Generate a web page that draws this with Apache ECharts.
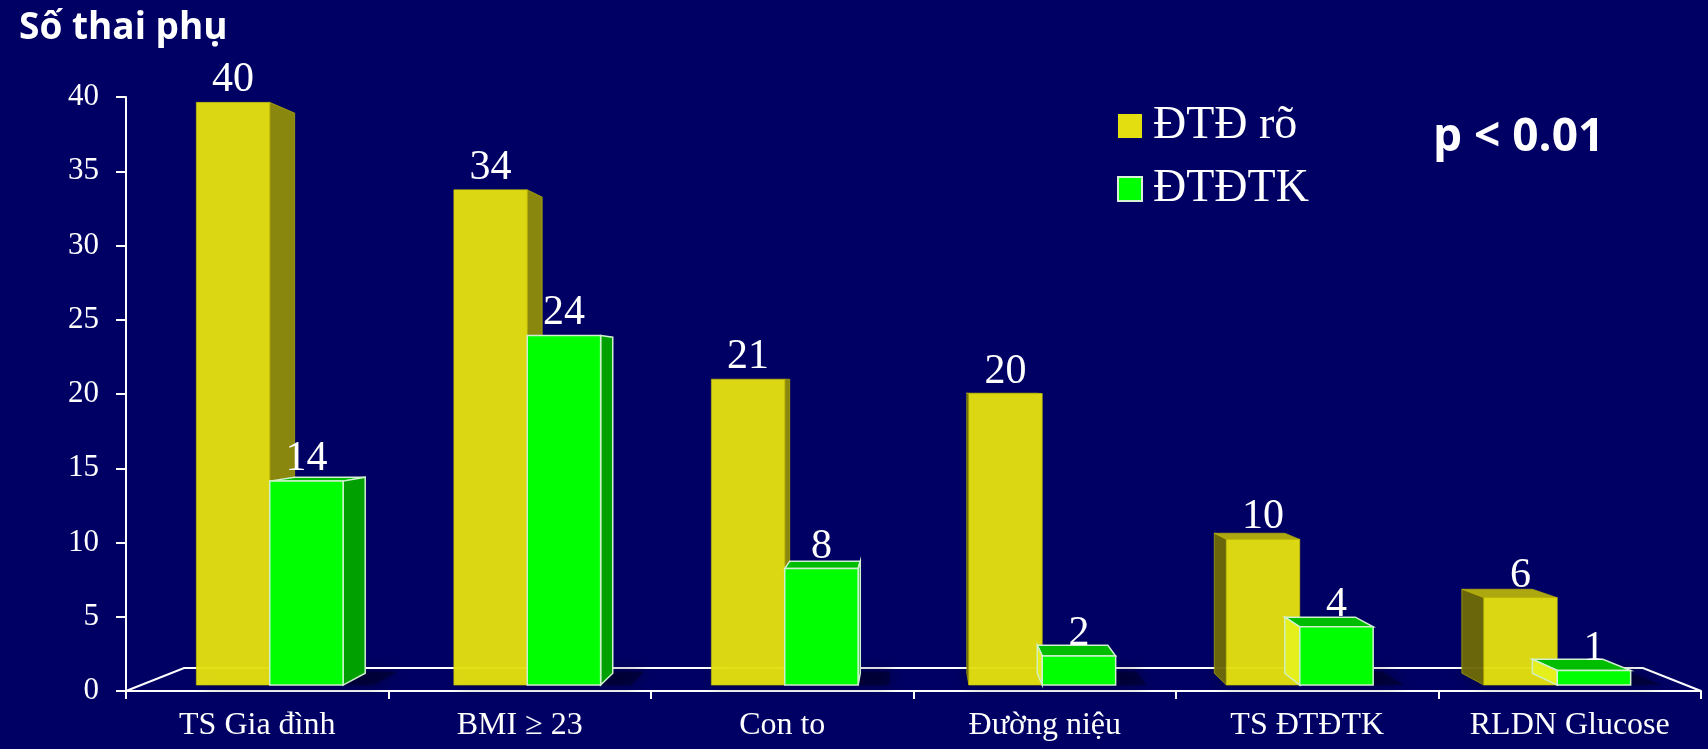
<!DOCTYPE html>
<html>
<head>
<meta charset="utf-8">
<script src="https://cdn.jsdelivr.net/npm/echarts@6/dist/echarts.min.js"></script>
<style>
html,body{margin:0;padding:0;background:#000064;}
#main{width:1708px;height:749px;}
</style>
</head>
<body>
<div id="main"></div>
<script>
// ---- data ----
const categories = ['TS Gia đình', 'BMI ≥ 23', 'Con to', 'Đường niệu', 'TS ĐTĐTK', 'RLDN Glucose'];
const seriesNames = ['ĐTĐ rõ', 'ĐTĐTK'];
const overtDiabetes = [40, 34, 21, 20, 10, 6];
const gestationalDiabetes = [14, 24, 8, 2, 4, 1];
const yTickValues = [0, 5, 10, 15, 20, 25, 30, 35, 40];

// ---- rendering constants ----
const K0 = 0.019, K1 = 0.057, KF = 0.0737, EYE_VALUE = 21, BAR_FRAC = 0.285;

function makeProj(params, api) {
  const cs = params.coordSys;
  const ex = cs.x + cs.width / 2;
  const ey = api.coord([0, EYE_VALUE])[1];
  return function (x, y, k) { return [ex + (x - ex) * (1 - k), ey + (y - ey) * (1 - k)]; };
}

function boxRenderer(side, colors) {
  return function (params, api) {
    const cs = params.coordSys;
    const ex = cs.x + cs.width / 2;
    const ey = api.coord([0, EYE_VALUE])[1];
    const P = makeProj(params, api);
    const i = api.value(0), v = api.value(1);
    const c0 = api.coord([i, 0]);
    const cx = c0[0], y0 = c0[1];
    const yv = api.coord([i, v])[1];
    const band = api.size([1, 0])[0];
    const w = band * BAR_FRAC;
    const xl = side === 0 ? cx - w : cx;
    const xr = xl + w;
    const children = [];
    const stroke = colors.stroke, lw = colors.lineWidth;
    if (yv > ey) {
      children.push({ type: 'polygon', shape: { points: [P(xl, yv, K0), P(xr, yv, K0), P(xr, yv, K1), P(xl, yv, K1)] },
        style: { fill: colors.top, stroke: stroke, lineWidth: lw, opacity: colors.opacity } });
    }
    if (xr < ex) {
      children.push({ type: 'polygon', shape: { points: [P(xr, yv, K0), P(xr, yv, K1), P(xr, y0, K1), P(xr, y0, K0)] },
        style: { fill: colors.right, stroke: stroke, lineWidth: lw, opacity: colors.opacity } });
    }
    if (xl > ex) {
      children.push({ type: 'polygon', shape: { points: [P(xl, yv, K0), P(xl, yv, K1), P(xl, y0, K1), P(xl, y0, K0)] },
        style: { fill: colors.left, stroke: stroke, lineWidth: lw, opacity: colors.leftOpacity } });
    }
    children.push({ type: 'polygon', shape: { points: [P(xl, yv, K0), P(xr, yv, K0), P(xr, y0, K0), P(xl, y0, K0)] },
      style: { fill: colors.front, stroke: stroke, lineWidth: lw, opacity: colors.opacity } });
    const lp = P((xl + xr) / 2, yv, K0);
    children.push({ type: 'text', x: lp[0], y: lp[1] - 1,
      style: { text: String(v), fill: '#ffffff', font: '42px "Liberation Serif"', align: 'center', verticalAlign: 'bottom' } });
    return { type: 'group', children: children };
  };
}

function floorRenderer(params, api) {
  const cs = params.coordSys;
  const P = makeProj(params, api);
  const i = api.value(0);
  const c0 = api.coord([i, 0]);
  const cx = c0[0], y0 = c0[1];
  const band = api.size([1, 0])[0];
  const w = band * BAR_FRAC;
  const children = [];
  const sx0 = cx - w, sx1 = cx + w + band * 0.12;
  children.push({ type: 'polygon', shape: { points: [P(sx0, y0, K0), P(sx1, y0, K0), P(sx1, y0, KF * 0.85), P(sx0, y0, KF * 0.85)] },
    style: { fill: 'rgba(0,0,40,0.55)', shadowBlur: 14, shadowColor: 'rgba(0,0,25,0.9)' } });
  if (i === 0) {
    const L = cs.x, R = cs.x + cs.width;
    children.push({ type: 'polyline', shape: { points: [[L, y0], P(L, y0, KF), P(R, y0, KF), [R, y0]] },
      style: { stroke: '#ffffff', lineWidth: 2, fill: 'none' } });
  }
  return { type: 'group', children: children };
}

const chart = echarts.init(document.getElementById('main'));
chart.setOption({
  backgroundColor: '#000064',
  animation: false,
  title: { text: 'Số thai phụ', left: 14, top: 5,
    textStyle: { color: '#ffffff', fontFamily: 'Open Sans', fontWeight: 'bold', fontSize: 37 } },
  legend: {
    orient: 'vertical', left: 1112, top: 98, itemWidth: 24, itemHeight: 24, itemGap: 17,
    textStyle: { color: '#ffffff', fontSize: 46, fontFamily: 'Liberation Serif', lineHeight: 46, padding: [0, 0, 0, 6] },
    data: [
      { name: seriesNames[0], icon: 'rect', itemStyle: { color: '#e2de10', borderWidth: 0 } },
      { name: seriesNames[1], icon: 'rect', itemStyle: { color: '#00ff00', borderColor: '#d8f0d8', borderWidth: 2 } }
    ]
  },
  graphic: [
    { type: 'text', left: 1433, top: 115, style: { text: 'p < 0.01', fill: '#ffffff', font: 'bold 46px "Open Sans"' } }
  ],
  grid: { left: 126, right: 7, top: 97, bottom: 58 },
  xAxis: {
    type: 'category', data: categories,
    axisLine: { lineStyle: { color: '#ffffff', width: 2 } },
    axisTick: { show: true, length: 8, lineStyle: { color: '#ffffff', width: 2 } },
    axisLabel: { color: '#ffffff', fontFamily: 'Liberation Serif', fontSize: 32, margin: 19, interval: 0 }
  },
  yAxis: {
    type: 'value', min: yTickValues[0], max: yTickValues[yTickValues.length - 1], interval: yTickValues[1] - yTickValues[0],
    axisLine: { show: true, lineStyle: { color: '#ffffff', width: 2 } },
    axisTick: { show: true, length: 10, lineStyle: { color: '#ffffff', width: 2 } },
    axisLabel: { color: '#ffffff', fontFamily: 'Liberation Serif', fontSize: 31, margin: 27 },
    splitLine: { show: false }
  },
  series: [
    { type: 'custom', name: 'floor', z: 1, silent: true, renderItem: floorRenderer,
      data: categories.map((c, i) => [i, 0]), encode: { x: 0, y: 1 } },
    { type: 'custom', name: seriesNames[0], z: 2, itemStyle: { color: '#e2de10' },
      renderItem: boxRenderer(0, { front: '#e4e010', top: '#b4ae0c', right: '#908c0a', left: '#6e6a08',
        stroke: 'rgba(200,195,0,0.6)', lineWidth: 1, opacity: 0.96, leftOpacity: 0.96 }),
      data: overtDiabetes.map((v, i) => [i, v]), encode: { x: 0, y: 1 } },
    { type: 'custom', name: seriesNames[1], z: 3, itemStyle: { color: '#00ff00' },
      renderItem: boxRenderer(1, { front: '#00ff00', top: '#00bd00', right: '#00a000', left: '#e6f21e',
        stroke: '#d0f0d0', lineWidth: 1.5, opacity: 1, leftOpacity: 0.9 }),
      data: gestationalDiabetes.map((v, i) => [i, v]), encode: { x: 0, y: 1 } }
  ]
});
</script>
</body>
</html>
